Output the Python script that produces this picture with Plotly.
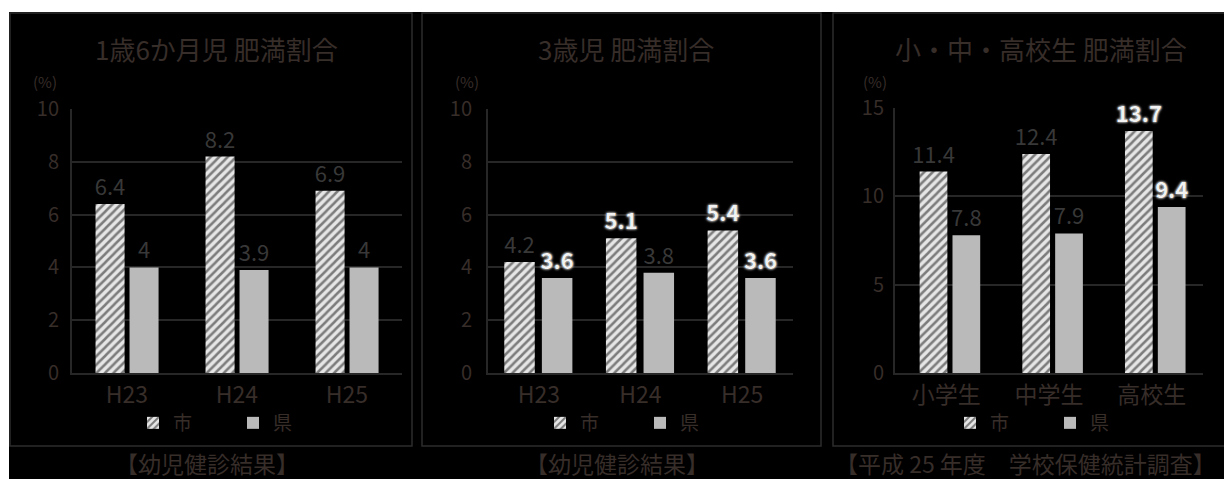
import plotly.graph_objects as go

# ---- data ----
years = ["H23", "H24", "H25"]
schools = ["小学生", "中学生", "高校生"]

toddler_city = [6.4, 8.2, 6.9]
toddler_pref = [4.0, 3.9, 4.0]

age3_city = [4.2, 5.1, 5.4]
age3_pref = [3.6, 3.8, 3.6]

school_city = [11.4, 12.4, 13.7]
school_pref = [7.8, 7.9, 9.4]

# which value labels are drawn in the bold white style
age3_city_bold = [False, True, True]
age3_pref_bold = [True, False, True]
school_city_bold = [False, False, True]
school_pref_bold = [False, False, True]

titles = ["1歳6か月児 肥満割合", "3歳児 肥満割合", "小・中・高校生 肥満割合"]
captions = ["【幼児健診結果】", "【幼児健診結果】", "【平成 25 年度　学校保健統計調査】"]
series_names = ["市", "県"]

# ---- style ----
W, H = 1224, 479
FONT = "Noto Sans CJK JP"
DIM = "#372d29"
DIM_VAL = "#383838"
GRID = "#272727"
FRAME = "#2c2c2c"
HATCH_BG = "#e6e6e6"
GRAY_BAR = "#bababa"


def px_x(p):
    return p / W


def px_y(p):
    return 1 - p / H


def label_style(bold_flags):
    colors = ["#f2f2f2" if b else DIM_VAL for b in bold_flags]
    weights = ["bold" if b else "normal" for b in bold_flags]
    shadows = ["0 0 1px #000, 0 0 2px #fff, 0 0 3px #fff" if b else "none" for b in bold_flags]
    return dict(color=colors, weight=weights, size=22, shadow=shadows, family=FONT)


def fmt(vals):
    return [f"{v:g}" for v in vals]


fig = go.Figure()

panels = [
    dict(cats=years, city=toddler_city, pref=toddler_pref,
         cb=[False] * 3, pb=[False] * 3,
         xa="x", ya="y", legend="legend",
         off=(-0.286, 0.023), w=0.264),
    dict(cats=years, city=age3_city, pref=age3_pref,
         cb=age3_city_bold, pb=age3_pref_bold,
         xa="x2", ya="y2", legend="legend2",
         off=(-0.34, 0.03), w=0.30),
    dict(cats=schools, city=school_city, pref=school_pref,
         cb=school_city_bold, pb=school_pref_bold,
         xa="x3", ya="y3", legend="legend3",
         off=(-0.26, 0.06), w=0.27),
]

for p in panels:
    fig.add_trace(go.Bar(
        x=p["cats"], y=p["city"], name=series_names[0],
        xaxis=p["xa"], yaxis=p["ya"], legend=p["legend"],
        width=p["w"], offset=p["off"][0],
        marker=dict(color=HATCH_BG, line=dict(width=0),
                    pattern=dict(shape="/", fgcolor="#111111", bgcolor=HATCH_BG,
                                 size=6, solidity=0.42, fillmode="overlay")),
        text=fmt(p["city"]), textposition="outside", cliponaxis=False,
        constraintext="none",
        textfont=label_style(p["cb"]),
    ))
    fig.add_trace(go.Bar(
        x=p["cats"], y=p["pref"], name=series_names[1],
        xaxis=p["xa"], yaxis=p["ya"], legend=p["legend"],
        width=p["w"], offset=p["off"][1],
        marker=dict(color=GRAY_BAR, line=dict(width=0)),
        text=fmt(p["pref"]), textposition="outside", cliponaxis=False,
        constraintext="none",
        textfont=label_style(p["pb"]),
    ))

x_doms = [[px_x(72), px_x(402)], [px_x(488), px_x(793)], [px_x(895), px_x(1203)]]
y_ranges = [[0, 10], [0, 10], [0, 15]]
y_dticks = [2, 2, 5]
standoffs = [7, 10, 5]

layout = dict(
    width=W, height=H,
    margin=dict(l=0, r=0, t=0, b=0, autoexpand=False),
    paper_bgcolor="white",
    plot_bgcolor="rgba(0,0,0,0)",
    barmode="group",
    font=dict(family=FONT, color=DIM),
)

for i in range(3):
    sx = "" if i == 0 else str(i + 1)
    layout["xaxis" + sx] = dict(
        domain=x_doms[i], anchor="y" + sx,
        showgrid=False, showline=True, linecolor=GRID, linewidth=2,
        ticks="", tickfont=dict(size=23, color=DIM, family=FONT),
        fixedrange=True,
    )
    layout["yaxis" + sx] = dict(
        domain=[px_y(373), px_y(108 if i == 2 else 109)], anchor="x" + sx,
        range=y_ranges[i], dtick=y_dticks[i], tick0=0,
        showgrid=True, gridcolor=GRID, gridwidth=2,
        showline=True, linecolor=GRID, linewidth=2,
        zeroline=False, ticks="",
        tickfont=dict(size=20, color=DIM, family=FONT),
        ticklabelstandoff=standoffs[i],
        fixedrange=True,
    )

# legends under each panel
legend_x = [px_x(133), px_x(540), px_x(950)]
for i in range(3):
    key = "legend" if i == 0 else f"legend{i + 1}"
    layout[key] = dict(
        orientation="h", x=legend_x[i], xanchor="left",
        y=px_y(423), yanchor="middle",
        bgcolor="rgba(0,0,0,0)", borderwidth=0,
        font=dict(size=19, color=DIM, family=FONT),
        entrywidth=55, entrywidthmode="pixels",
        itemclick=False, itemdoubleclick=False,
    )

# background, panel frames
shapes = [
    dict(type="rect", xref="paper", yref="paper", layer="below",
         x0=px_x(9), x1=1, y0=0, y1=px_y(12),
         fillcolor="#000000", line=dict(width=0)),
]
for x0, x1 in [(10, 412), (422, 821), (833, 1232)]:
    shapes.append(dict(type="rect", xref="paper", yref="paper", layer="below",
                       x0=px_x(x0), x1=px_x(x1), y0=px_y(446), y1=px_y(13),
                       line=dict(color=FRAME, width=1.5), fillcolor="rgba(0,0,0,0)"))
layout["shapes"] = shapes

annotations = []
title_x = [216, 626, 1041]
unit_x = [45, 467, 875]
for i in range(3):
    annotations.append(dict(text=titles[i], xref="paper", yref="paper",
                            x=px_x(title_x[i]), y=px_y(49), xanchor="center", yanchor="middle",
                            showarrow=False, font=dict(size=26, color=DIM, family=FONT)))
    annotations.append(dict(text="(%)", xref="paper", yref="paper",
                            x=px_x(unit_x[i]), y=px_y(82), xanchor="center", yanchor="middle",
                            showarrow=False, font=dict(size=15, color=DIM, family=FONT)))
annotations.append(dict(text=captions[0], xref="paper", yref="paper",
                        x=px_x(207), y=px_y(463), xanchor="center", yanchor="middle",
                        showarrow=False, font=dict(size=23, color=DIM, family=FONT)))
annotations.append(dict(text=captions[1], xref="paper", yref="paper",
                        x=px_x(617), y=px_y(463), xanchor="center", yanchor="middle",
                        showarrow=False, font=dict(size=23, color=DIM, family=FONT)))
annotations.append(dict(text=captions[2], xref="paper", yref="paper",
                        x=px_x(833), y=px_y(463), xanchor="left", yanchor="middle",
                        showarrow=False, font=dict(size=23, color=DIM, family=FONT)))
layout["annotations"] = annotations

fig.update_layout(**layout)
fig.write_html("out.html")
